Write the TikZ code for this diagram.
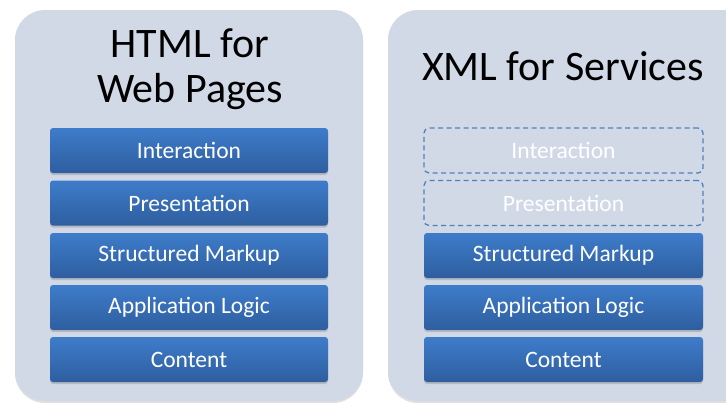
\documentclass[tikz,border=0pt]{standalone}
\usepackage{fontspec}
\setmainfont{Carlito}
\usetikzlibrary{shadows,positioning}
\definecolor{panelfill}{HTML}{D1D9E7}
\definecolor{boxtop}{HTML}{3E7CCA}
\definecolor{boxbot}{HTML}{2E5E9F}
\definecolor{dashcol}{HTML}{4F81BD}
\tikzset{
  panel/.style={fill=panelfill, rounded corners=30pt, draw=none,
     drop shadow={opacity=0.25, shadow xshift=0pt, shadow yshift=-2pt}},
  layerbox/.style={rectangle, rounded corners=3pt, minimum height=45pt,
     text=white, font=\fontsize{23.5}{28}\selectfont, top color=boxtop, bottom color=boxbot,
     draw=none, drop shadow={opacity=0.35, shadow xshift=0pt, shadow yshift=-2pt}},
  ghostbox/.style={rectangle, rounded corners=5pt, minimum height=45pt,
     text=white, font=\fontsize{23.5}{28}\selectfont, draw=dashcol, line width=1.3pt,
     dash pattern=on 5pt off 3.5pt},
  title/.style={font=\fontsize{42}{47}\selectfont, align=center, text=black}
}
\begin{document}
\begin{tikzpicture}[x=1pt,y=-1pt]
\useasboundingbox[fill=white] (0,0) rectangle (726,402);
\fill[panel] (15,10) rectangle (363,401);
\fill[panel] (388,10) rectangle (760,401);
% titles
\node[title, anchor=base] (t1a) at (190,57) {HTML for};
\node[title, anchor=base] (t1b) at (190,102) {Web Pages};
\node[title, anchor=base] (t2) at (563,80) {XML for Services};
% left boxes
\foreach \n/\y/\t in {l1/150.5/Interaction, l2/203/Presentation, l3/255.5/Structured Markup, l4/307.5/Application Logic, l5/359.5/Content}{
  \node[layerbox, minimum width=278pt] (\n) at (189,\y) {\t};
}
% right boxes
\node[ghostbox, minimum width=279pt] (r1) at (563.5,150.5) {Interaction};
\node[ghostbox, minimum width=279pt] (r2) at (563.5,203) {Presentation};
\foreach \n/\y/\t in {r3/255.5/Structured Markup, r4/307.5/Application Logic, r5/359.5/Content}{
  \node[layerbox, minimum width=279pt] (\n) at (563.5,\y) {\t};
}
\end{tikzpicture}
\end{document}
